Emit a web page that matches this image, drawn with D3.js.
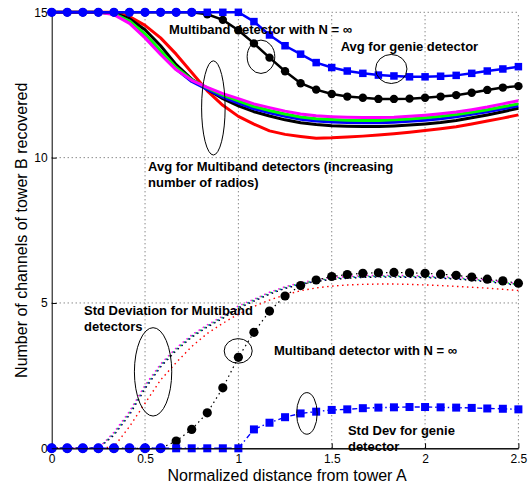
<!DOCTYPE html>
<html><head><meta charset="utf-8">
<script src="https://cdn.jsdelivr.net/npm/d3@7"></script>
<style>body{margin:0;background:#fff} svg{display:block}</style>
</head><body><svg id="c" width="531" height="487"></svg>
<script>
// ---------------- data ----------------
const distance = [0,0.0833,0.1667,0.25,0.3333,0.4167,0.5,0.5833,0.6667,0.75,0.8333,0.9167,1,1.0833,1.1667,1.25,1.3333,1.4167,1.5,1.5833,1.6667,1.75,1.8333,1.9167,2,2.0833,2.1667,2.25,2.3333,2.4167,2.5];

const avgRed     = [15,15,15,15,15,14.85,14.55,14.12,13.56,12.93,12.3,11.8,11.42,11.15,10.92,10.8,10.73,10.67,10.68,10.71,10.74,10.78,10.82,10.87,10.93,10.99,11.06,11.16,11.26,11.36,11.47];
const avgBlack   = [15,15,15,15,14.97,14.78,14.4,13.85,13.2,12.7,12.35,12.03,11.78,11.58,11.43,11.3,11.2,11.14,11.1,11.08,11.07,11.07,11.09,11.12,11.16,11.21,11.28,11.37,11.47,11.58,11.7];
const avgBlue    = [15,15,15,15,14.95,14.7,14.22,13.65,13.05,12.62,12.35,12.08,11.88,11.68,11.54,11.42,11.32,11.26,11.23,11.21,11.2,11.2,11.22,11.25,11.29,11.34,11.41,11.49,11.58,11.68,11.78];
const avgGreen   = [15,15,15,15,14.95,14.7,14.25,13.68,13.1,12.68,12.4,12.15,11.95,11.76,11.62,11.5,11.4,11.34,11.31,11.29,11.28,11.28,11.3,11.33,11.37,11.42,11.48,11.56,11.65,11.75,11.85];
const avgMagenta = [15,15,15,15,14.92,14.62,14.12,13.55,13.02,12.66,12.42,12.2,12.03,11.85,11.72,11.6,11.5,11.44,11.41,11.39,11.38,11.38,11.39,11.42,11.46,11.51,11.57,11.65,11.74,11.85,11.96];

const stdRed     = [0,0,0,0,0.05,0.75,1.55,2.35,2.95,3.5,3.95,4.3,4.62,4.88,5.1,5.28,5.42,5.52,5.58,5.62,5.64,5.65,5.65,5.64,5.62,5.6,5.57,5.54,5.51,5.47,5.43];
const stdBlack   = [0,0,0,0,0.45,1.15,2.05,2.8,3.36,3.82,4.17,4.47,4.82,5.06,5.3,5.5,5.64,5.74,5.81,5.85,5.88,5.89,5.89,5.88,5.87,5.85,5.82,5.78,5.73,5.67,5.6];
const stdBlue    = [0,0,0,0,0.49,1.2,2.1,2.84,3.4,3.85,4.2,4.5,4.85,5.09,5.33,5.52,5.66,5.76,5.83,5.87,5.9,5.91,5.91,5.9,5.89,5.87,5.84,5.8,5.75,5.69,5.62];
const stdGreen   = [0,0,0,0,0.52,1.24,2.14,2.87,3.42,3.87,4.22,4.52,4.87,5.11,5.35,5.54,5.68,5.78,5.85,5.89,5.92,5.93,5.93,5.92,5.91,5.89,5.86,5.82,5.77,5.71,5.64];
const stdMagenta = [0,0,0,0,0.55,1.27,2.17,2.9,3.45,3.9,4.25,4.55,4.9,5.13,5.37,5.56,5.7,5.8,5.87,5.91,5.94,5.95,5.95,5.94,5.93,5.91,5.88,5.84,5.79,5.73,5.66];

const ninfAvg  = [15,15,15,15,15,15,15,15,15,15,14.93,14.74,14.38,13.93,13.44,12.97,12.56,12.34,12.19,12.1,12.06,12.02,12.02,12.03,12.06,12.1,12.15,12.23,12.33,12.41,12.46];
const genieAvg = [15,15,15,15,15,15,15,15,15,15,15,15,15,14.68,14.22,13.85,13.56,13.27,13.1,12.98,12.9,12.84,12.81,12.78,12.78,12.8,12.83,12.9,12.98,13.05,13.13];
const ninfStd  = [0,0,0,0,0,0,0,0,0.25,0.65,1.22,2.08,3.13,3.99,4.72,5.24,5.6,5.79,5.91,5.98,6.02,6.04,6.05,6.04,6.02,5.99,5.95,5.89,5.82,5.76,5.68];
const genieStd = [0,0,0,0,0,0,0,0,0,0,0,0,0,0.65,0.88,1.07,1.2,1.26,1.32,1.34,1.38,1.4,1.41,1.42,1.42,1.41,1.4,1.39,1.37,1.36,1.34];

const xTicks = [0,0.5,1,1.5,2,2.5];
const yTicks = [0,5,10,15];
const xTitle = "Normalized distance from tower A";
const yTitle = "Number of channels of tower B recovered";

// ---------------- drawing ----------------
const svg = d3.select("#c");
const FONT = "'Liberation Sans', Arial, Helvetica, sans-serif";
const L = 51.7, R = 518.4, T = 12.3, B = 448.3;
const x = d3.scaleLinear().domain([0,2.5]).range([L,R]);
const y = d3.scaleLinear().domain([0,15]).range([B,T]);

// grid
const grid = svg.append("g").attr("stroke","#444").attr("stroke-width",0.9).attr("stroke-dasharray","1,3");
grid.selectAll(".gx").data(xTicks.filter(d=>d>0)).join("line")
  .attr("x1",d=>x(d)).attr("x2",d=>x(d)).attr("y1",B).attr("y2",T);
grid.selectAll(".gy").data(yTicks.filter(d=>d>0)).join("line")
  .attr("x1",L).attr("x2",R).attr("y1",d=>y(d)).attr("y2",d=>y(d));

// axes
const fmt = d => String(d);
const ax = svg.append("g").attr("transform",`translate(0,${B})`)
  .call(d3.axisBottom(x).tickValues(xTicks).tickFormat(fmt).tickSizeInner(-5).tickSizeOuter(0).tickPadding(6));
const ay = svg.append("g").attr("transform",`translate(${L},0)`)
  .call(d3.axisLeft(y).tickValues(yTicks).tickFormat(fmt).tickSizeInner(-5).tickSizeOuter(0).tickPadding(4));
[ax,ay].forEach(a=>{
  a.selectAll("text").attr("font-family",FONT).attr("font-size",12).attr("fill","#000");
  a.selectAll("line,path").attr("stroke","#000").attr("stroke-width",1);
});

const line = vals => d3.line().x((d,i)=>x(distance[i])).y(d=>y(d))(vals);

// std of multiband detectors (dotted)
const stdSeries = [[stdRed,"#ff0000"],[stdBlack,"#000000"],[stdBlue,"#0000ff"],[stdGreen,"#00ff00"],[stdMagenta,"#ff00ff"]];
stdSeries.forEach(([v,c],k)=>{
  svg.append("path").attr("d",line(v)).attr("fill","none").attr("stroke",c)
    .attr("stroke-width",1.4).attr("stroke-dasharray","1.5,3.5").attr("stroke-dashoffset",k*0.6);
});

// N=inf std
svg.append("path").attr("d",line(ninfStd)).attr("fill","none").attr("stroke","#000")
  .attr("stroke-width",1.2).attr("stroke-dasharray","1.5,3.5");
svg.append("g").selectAll("circle").data(ninfStd).join("circle")
  .attr("cx",(d,i)=>x(distance[i])).attr("cy",d=>y(d)).attr("r",4.6).attr("fill","#000");

// genie std
svg.append("path").attr("d",line(genieStd)).attr("fill","none").attr("stroke","#0000ff")
  .attr("stroke-width",1.4).attr("stroke-dasharray","5,3,1.5,3");
function genieMarkers(vals, ref, rc, s){
  const g = svg.append("g").attr("fill","#0000ff");
  vals.forEach((d,i)=>{
    if (d === ref[i]) g.append("circle").attr("cx",x(distance[i])).attr("cy",y(d)).attr("r",rc);
    else g.append("rect").attr("x",x(distance[i])-s/2).attr("y",y(d)-s/2).attr("width",s).attr("height",s);
  });
}
genieMarkers(genieStd, ninfStd, 5, 8);

// averages multiband
const avgSeries = [[avgRed,"#ff0000"],[avgBlack,"#000000"],[avgBlue,"#0000ff"],[avgGreen,"#00ff00"],[avgMagenta,"#ff00ff"]];
avgSeries.forEach(([v,c])=>{
  svg.append("path").attr("d",line(v)).attr("fill","none").attr("stroke",c)
    .attr("stroke-width",3).attr("stroke-linejoin","round");
});

// N=inf avg
svg.append("path").attr("d",line(ninfAvg)).attr("fill","none").attr("stroke","#000").attr("stroke-width",2.5);
svg.append("g").selectAll("circle").data(ninfAvg).join("circle")
  .attr("cx",(d,i)=>x(distance[i])).attr("cy",d=>y(d)).attr("r",4.2).attr("fill","#000");

// genie avg
svg.append("path").attr("d",line(genieAvg)).attr("fill","none").attr("stroke","#0000ff").attr("stroke-width",2.5);
genieMarkers(genieAvg, ninfAvg, 4.6, 7.5);

// axis titles
svg.append("text").attr("x",(L+R)/2+2).attr("y",480.5).attr("text-anchor","middle")
  .attr("font-family",FONT).attr("font-size",16).text(xTitle);
svg.append("text").attr("transform",`translate(26.5,${(T+B)/2}) rotate(-90)`).attr("text-anchor","middle")
  .attr("font-family",FONT).attr("font-size",16).text(yTitle);

// annotations (data coordinates)
const ellipses = [
  [0.866,11.71,0.063,1.62],[1.121,13.47,0.074,0.574],[1.819,13.05,0.084,0.5],
  [0.543,2.63,0.1,1.52],[0.999,3.35,0.075,0.423],[1.367,1.2,0.055,0.716]
];
ellipses.forEach(([cx,cy,rx,ry])=>{
  svg.append("ellipse").attr("cx",x(cx)).attr("cy",y(cy))
    .attr("rx",x(rx)-x(0)).attr("ry",y(0)-y(ry))
    .attr("fill","none").attr("stroke","#000").attr("stroke-width",1);
});
const notes = [
  [0.629,14.25,"Multiband detector with N = \u221e"],
  [1.548,13.66,"Avg for genie detector"],
  [0.516,9.53,"Avg for Multiband detectors (increasing"],
  [0.516,8.99,"number of radios)"],
  [0.173,4.59,"Std Deviation for Multiband"],
  [0.173,4.02,"detectors"],
  [1.191,3.2,"Multiband detector with N = \u221e"],
  [1.587,0.456,"Std Dev for genie"],
  [1.587,-0.11,"detector"]
];
notes.forEach(([nx,ny,t])=>{
  svg.append("text").attr("x",x(nx)).attr("y",y(ny)).attr("font-family",FONT)
    .attr("font-size",13).attr("font-weight","bold").attr("fill","#000").text(t);
});
// redraw bottom axis line over the last note like the original
svg.append("line").attr("x1",L).attr("x2",R).attr("y1",B+0.5).attr("y2",B+0.5).attr("stroke","#000").attr("stroke-width",1);
</script></body></html>
